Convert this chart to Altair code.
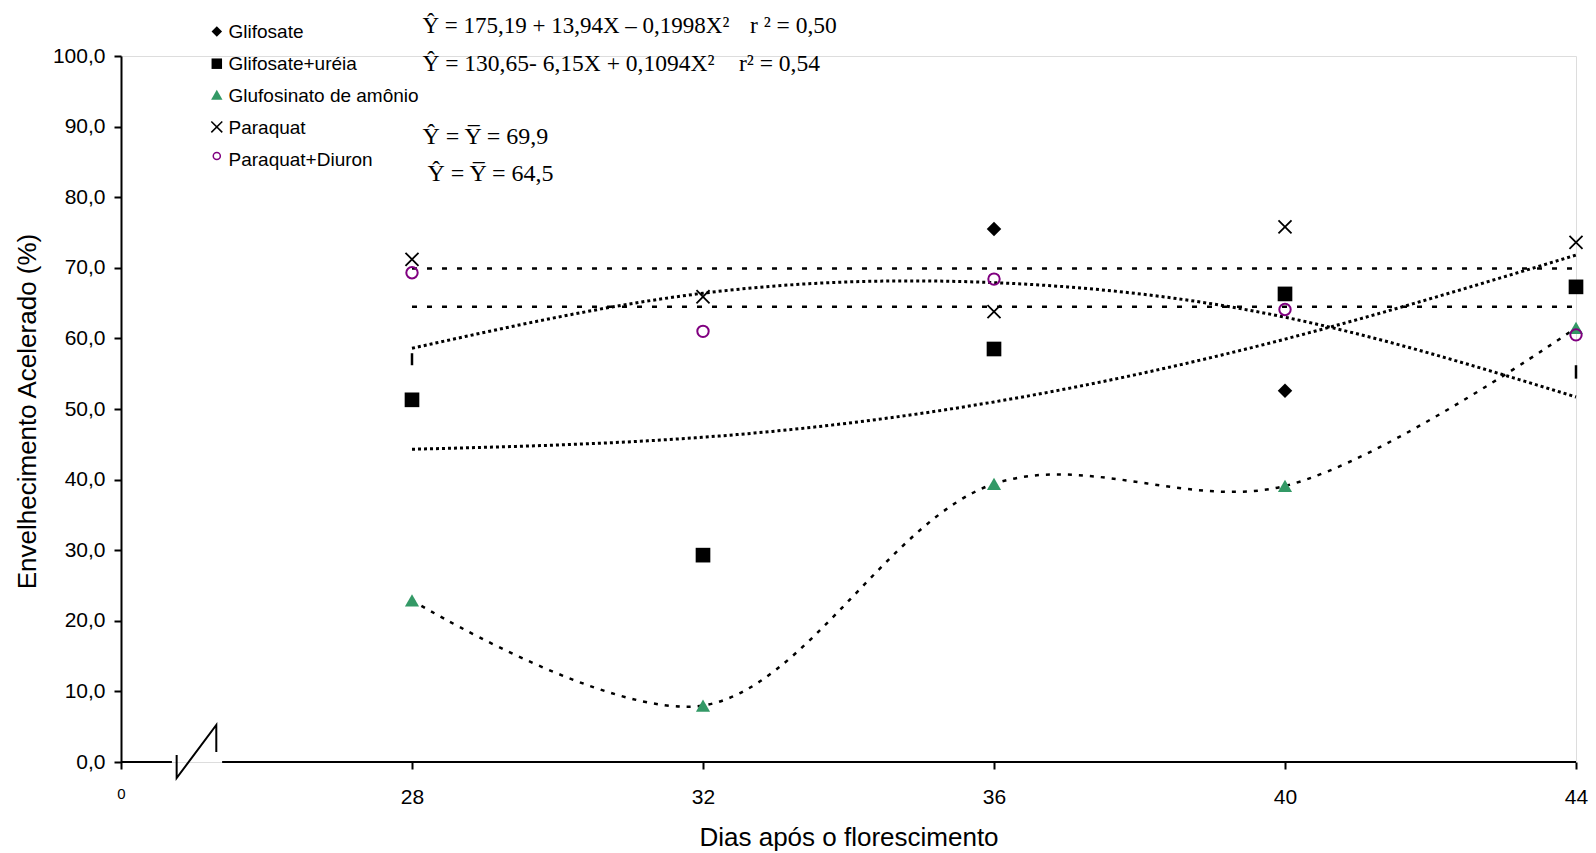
import altair as alt
import pandas as pd

# Sampling dates (days after flowering)
dias = [28, 32, 36, 40, 44]

# Observed means (%)
glifosate_dias = [36, 40]
glifosate = [75.5, 52.6]
glifosate_ureia = [51.3, 29.3, 58.5, 66.3, 67.3]
glufosinato = [22.9, 8.0, 39.4, 39.1, 61.5]
paraquat = [71.2, 65.9, 63.8, 75.8, 73.6]
paraquat_diuron = [69.3, 61.0, 68.4, 64.1, 60.5]

# Short vertical marks at the ends of the Glifosate curve
marca_dias = [28, 44]
marca_ini = [56.2, 54.3]
marca_fim = [57.9, 56.2]

# Fitted curves evaluated at the sampling dates
curva_glifosate = [58.6, 66.4, 67.9, 63.0, 51.7]
curva_glifosate_ureia = [44.3, 46.0, 51.0, 59.9, 71.8]
media_paraquat = 69.9
media_paraquat_diuron = 64.5

# Broken x axis: visible stretches and the zig-zag break symbol
eixo_ini = [24, 25.39]
eixo_fim = [24.70, 44]
quebra_dia = [24.765, 24.765, 25.31, 25.31]
quebra_valor = [0.99, -2.27, 5.24, 1.42]

legenda = ["Glifosate", "Glifosate+uréia", "Glufosinato de amônio",
           "Paraquat", "Paraquat+Diuron"]
equacoes = [
    "Ŷ = 175,19 + 13,94X – 0,1998X²",
    "Ŷ = 130,65- 6,15X + 0,1094X²",
    "Ŷ = Y̅ = 69,9",
    "Ŷ = Y̅ = 64,5",
]
r2 = ["r ² = 0,50", "r² = 0,54"]

SANS = "Liberation Sans"
SERIF = "Liberation Serif"
VERDE = "#339966"
ROXO = "#800080"
W, H = 1455, 706

x_scale = alt.Scale(domain=[24, 44], nice=False, zero=False)
y_scale = alt.Scale(domain=[0, 100], nice=False, zero=False)

x_axis = alt.Axis(
    values=[24, 28, 32, 36, 40, 44],
    domain=False, grid=False, labelFlush=False,
    tickSize=7, tickWidth=2, tickColor="black",
    labelExpr="datum.value == 24 ? '0' : datum.value",
    labelFontSize={"condition": {"test": "datum.value == 24", "value": 15}, "value": 21},
    labelFont=SANS, labelColor="black", labelPadding=17,
    title="Dias após o florescimento", titleFont=SANS, titleFontSize=26,
    titleFontWeight="normal", titleColor="black", titleY=75, titleBaseline="middle",
)
y_axis = alt.Axis(
    values=list(range(0, 101, 10)), grid=False,
    domainWidth=2, domainColor="black",
    tickSize=7, tickWidth=2, tickColor="black",
    labelExpr="replace(format(datum.value, '.1f'), '.', ',')",
    labelFont=SANS, labelFontSize=21, labelColor="black", labelPadding=9,
    title="Envelhecimento Acelerado (%)", titleFont=SANS, titleFontSize=26,
    titleFontWeight="normal", titleColor="black",
    titleX=-94, titleY=355, titleAngle=-90, titleAlign="center", titleBaseline="middle",
)


def X(campo="dia"):
    return alt.X(f"{campo}:Q", scale=x_scale, axis=x_axis, title="Dias após o florescimento")


def Y(campo="valor"):
    return alt.Y(f"{campo}:Q", scale=y_scale, axis=y_axis, title="Envelhecimento Acelerado (%)")


def tabela(xs, ys):
    return pd.DataFrame({"dia": xs, "valor": ys, "ordem": range(len(xs))})


camadas = []

# x axis line with the break
camadas.append(
    alt.Chart(pd.DataFrame({"ini": eixo_ini, "fim": eixo_fim, "valor": [0, 0]}))
    .mark_rule(color="black", strokeWidth=2)
    .encode(x=X("ini"), x2="fim:Q", y=Y())
)
camadas.append(
    alt.Chart(tabela(quebra_dia, quebra_valor))
    .mark_line(color="black", strokeWidth=2)
    .encode(x=X(), y=Y(), order="ordem:Q")
)

# mean lines
camadas.append(
    alt.Chart(pd.DataFrame({"ini": [28, 28], "fim": [44, 44],
                            "valor": [media_paraquat, media_paraquat_diuron]}))
    .mark_rule(color="black", strokeWidth=2.5, strokeDash=[5, 10])
    .encode(x=X("ini"), x2="fim:Q", y=Y())
)

# quadratic fits
for curva in (curva_glifosate, curva_glifosate_ureia):
    camadas.append(
        alt.Chart(tabela(dias, curva))
        .mark_line(color="black", strokeWidth=3, strokeDash=[3, 3], interpolate="natural")
        .encode(x=X(), y=Y(), order="ordem:Q")
    )

# smoothed line through Glufosinato means
camadas.append(
    alt.Chart(tabela(dias, glufosinato))
    .mark_line(color="black", strokeWidth=2.5, strokeDash=[4, 7], interpolate="catmull-rom")
    .encode(x=X(), y=Y(), order="ordem:Q")
)

# small vertical marks
camadas.append(
    alt.Chart(pd.DataFrame({"dia": marca_dias, "valor": marca_ini, "fim": marca_fim}))
    .mark_rule(color="black", strokeWidth=2.5)
    .encode(x=X(), y=Y(), y2="fim:Q")
)

XSHAPE = "M-1,-1L1,1M-1,1L1,-1"


def pontos(xs, ys, **kw):
    return alt.Chart(tabela(xs, ys)).mark_point(opacity=1, **kw).encode(x=X(), y=Y())


camadas += [
    pontos(dias, glifosate_ureia, shape="square", size=215, filled=True, color="black"),
    pontos(glifosate_dias, glifosate, shape="diamond", size=210, filled=True, color="black"),
    pontos(dias, glufosinato, shape="triangle-up", size=200, filled=True, color=VERDE),
    pontos(dias, paraquat, shape=XSHAPE, size=170, filled=False, color="black", strokeWidth=1.8),
    pontos(dias, paraquat_diuron, shape="circle", size=130, filled=False, color=ROXO, strokeWidth=2),
]

# legend
simbolos = [
    dict(shape="diamond", size=110, filled=True, color="black"),
    dict(shape="square", size=110, filled=True, color="black"),
    dict(shape="triangle-up", size=130, filled=True, color=VERDE),
    dict(shape=XSHAPE, size=120, filled=False, color="black", strokeWidth=1.5),
    dict(shape="circle", size=50, filled=False, color=ROXO, strokeWidth=1.5),
]
desloc = [0, 0, -1, -1, -4]
um = pd.DataFrame({"k": [0]})
for i, (nome, simb) in enumerate(zip(legenda, simbolos)):
    yl = -24.4 + 32.1 * i
    camadas.append(
        alt.Chart(um).mark_point(opacity=1, **simb)
        .encode(x=alt.value(95.8), y=alt.value(yl + desloc[i]))
    )
    camadas.append(
        alt.Chart(um).mark_text(text=nome, font=SANS, fontSize=19, align="left",
                                baseline="middle", color="black")
        .encode(x=alt.value(107.5), y=alt.value(yl))
    )

# regression equations
eq_pos = [(301.4, -23.5, 23), (301.4, 15, 23.5), (301.4, 88, 24), (306.5, 125, 24)]
for texto, (xe, ye, fs) in zip(equacoes, eq_pos):
    camadas.append(
        alt.Chart(um).mark_text(text=texto, font=SERIF, fontSize=fs, align="left",
                                baseline="alphabetic", color="black")
        .encode(x=alt.value(xe), y=alt.value(ye))
    )
for texto, (xe, ye) in zip(r2, [(629, -23.5), (618, 15)]):
    camadas.append(
        alt.Chart(um).mark_text(text=texto, font=SERIF, fontSize=23.5, align="left",
                                baseline="alphabetic", color="black")
        .encode(x=alt.value(xe), y=alt.value(ye))
    )

chart = (
    alt.layer(*camadas)
    .properties(width=W, height=H,
                autosize=alt.AutoSizeParams(type="none"),
                padding={"left": 121, "top": 56, "right": 20, "bottom": 91})
    .configure_view(stroke=None)
    .configure(background="white")
)

chart.save("out.html", embed_options={"renderer": "svg", "actions": False})
